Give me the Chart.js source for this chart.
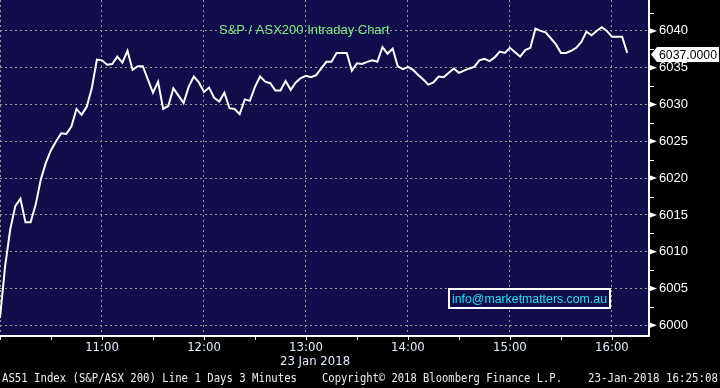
<!DOCTYPE html>
<html>
<head>
<meta charset="utf-8">
<script src="https://cdn.jsdelivr.net/npm/chart.js@4.4.1/dist/chart.umd.min.js"></script>
<style>
  html, body { margin: 0; padding: 0; background: #000; }
  #wrap { width: 720px; height: 388px; }
</style>
</head>
<body>
<div id="wrap"><canvas id="myChart" width="720" height="388"></canvas></div>
<script>
// AS51 3-minute closes from 10:00 (index 0) to 16:09
const startMinute = 0; // minutes after 10:00
const stepMinutes = 3;
const prices = [
  6001.0, 6008.0, 6013.0, 6016.2, 6017.2, 6014.0, 6014.0, 6016.4, 6019.8, 6022.1,
  6023.8, 6025.0, 6026.1, 6026.0, 6027.0, 6029.4, 6028.6, 6029.7, 6032.2, 6036.1,
  6036.0, 6035.4, 6035.5, 6036.5, 6035.7, 6037.3, 6034.7, 6035.2, 6035.2, 6033.4,
  6031.6, 6033.1, 6029.4, 6029.8, 6032.2, 6031.2, 6030.2, 6032.4, 6033.8, 6033.0,
  6031.7, 6032.3, 6030.9, 6030.4, 6031.6, 6029.5, 6029.4, 6028.7, 6030.7, 6030.5,
  6032.4, 6033.8, 6033.1, 6032.9, 6031.9, 6031.9, 6033.2, 6032.0, 6033.0, 6033.6,
  6033.9, 6033.7, 6034.0, 6034.9, 6035.8, 6035.8, 6037.0, 6037.0, 6037.0, 6034.6,
  6035.6, 6035.5, 6035.8, 6036.0, 6035.8, 6037.8, 6036.9, 6037.6, 6035.2, 6034.8,
  6035.1, 6034.7, 6034.0, 6033.4, 6032.7, 6033.0, 6033.8, 6033.7, 6034.3, 6034.9,
  6034.3, 6034.6, 6034.9, 6035.1, 6036.0, 6036.2, 6035.9, 6036.4, 6037.2, 6037.0,
  6037.7, 6037.1, 6036.5, 6037.4, 6037.7, 6040.3, 6040.0, 6039.8, 6039.0, 6038.2,
  6037.0, 6037.0, 6037.3, 6037.7, 6038.5, 6039.9, 6039.4, 6040.0, 6040.5, 6040.0,
  6039.2, 6039.2, 6039.2, 6037.0
];
const lastPrice = 6037.0;

const xTicks = [0, 60, 120, 180, 240, 300, 360];
const xLabels = ['', '11:00', '12:00', '13:00', '14:00', '15:00', '16:00'];
const xMinorTicks = [30, 90, 150, 210, 270, 330];
const yTicks = [6000, 6005, 6010, 6015, 6020, 6025, 6030, 6035, 6040];
const yMinorTicks = [6002.5, 6007.5, 6012.5, 6017.5, 6022.5, 6027.5, 6032.5, 6037.5, 6042.5];

const title = 'S&P / ASX200 Intraday Chart';
const dateLabel = '23 Jan 2018';
const footer = ['AS51 Index (S&P/ASX 200) Line 1 Days 3 Minutes', 'Copyright\u00A9 2018 Bloomberg Finance L.P.', '23-Jan-2018 16:25:08'];
const contact = 'info@marketmatters.com.au';

const PLOT_BG = '#110d4a';
const GRID = '#9c988c';

const points = prices.map((v, i) => ({ x: startMinute + i * stepMinutes, y: v }));

const decorations = {
  id: 'decorations',
  beforeDraw(chart) {
    const { ctx, chartArea: a } = chart;
    ctx.save();
    ctx.fillStyle = '#000';
    ctx.fillRect(0, 0, chart.width, chart.height);
    ctx.fillStyle = PLOT_BG;
    ctx.fillRect(a.left, a.top, a.right - a.left, a.bottom - a.top);
    ctx.restore();
  },
  afterDraw(chart) {
    const { ctx, chartArea: a } = chart;
    const xs = chart.scales.x, ys = chart.scales.y;
    ctx.save();

    // y axis tick pointers and minor ticks
    ctx.fillStyle = '#fff';
    ctx.strokeStyle = '#fff';
    ctx.lineWidth = 1;
    yTicks.forEach(v => {
      const y = ys.getPixelForValue(v);
      ctx.beginPath();
      ctx.moveTo(a.right, y - 3);
      ctx.lineTo(a.right + 8, y);
      ctx.lineTo(a.right, y + 3);
      ctx.closePath();
      ctx.fill();
    });
    yMinorTicks.forEach(v => {
      const y = Math.round(ys.getPixelForValue(v)) + 0.5;
      ctx.beginPath();
      ctx.moveTo(a.right, y);
      ctx.lineTo(a.right + 5, y);
      ctx.stroke();
    });

    // x axis tick marks
    xTicks.concat(xMinorTicks).forEach(v => {
      const x = Math.round(xs.getPixelForValue(v)) + 0.5;
      ctx.beginPath();
      ctx.moveTo(x, a.bottom);
      ctx.lineTo(x, a.bottom + 4);
      ctx.stroke();
    });

    // title
    ctx.font = '13px "Liberation Sans", Arial, sans-serif';
    ctx.fillStyle = '#82ea84';
    ctx.textAlign = 'left';
    ctx.textBaseline = 'alphabetic';
    ctx.fillText(title, 219, 34);

    // contact box
    ctx.fillStyle = PLOT_BG;
    ctx.fillRect(449, 289, 161, 19);
    ctx.lineWidth = 2;
    ctx.strokeStyle = '#fff';
    ctx.strokeRect(449, 289, 161, 19);
    ctx.fillStyle = '#1ee2ee';
    ctx.textAlign = 'center';
    ctx.textBaseline = 'middle';
    ctx.fillText(contact, 529.5, 299, 155);

    // last price flag
    const py = ys.getPixelForValue(lastPrice) + 1.5;
    ctx.fillStyle = '#fff';
    ctx.beginPath();
    ctx.moveTo(a.right + 2, py);
    ctx.lineTo(a.right + 8, py - 7.5);
    ctx.lineTo(719, py - 7.5);
    ctx.lineTo(719, py + 7.5);
    ctx.lineTo(a.right + 8, py + 7.5);
    ctx.closePath();
    ctx.fill();
    ctx.fillStyle = '#000';
    ctx.textAlign = 'left';
    ctx.font = '13px "Liberation Sans", Arial, sans-serif';
    ctx.fillText(lastPrice.toFixed(4), a.right + 10, py + 0.5, 58);

    // date under the time axis
    ctx.fillStyle = '#e4ecff';
    ctx.font = '13px "DejaVu Sans Condensed", "DejaVu Sans", sans-serif';
    ctx.textAlign = 'left';
    ctx.fillText(dateLabel, 280, 362, 73);

    // footer
    ctx.fillStyle = '#eeeeee';
    ctx.font = '12.5px "DejaVu Sans Mono", monospace';
    ctx.fillText(footer[0], 2, 379, 295);
    ctx.fillText(footer[1], 322, 379, 240);
    ctx.fillText(footer[2], 588, 379, 130);
    ctx.restore();
  }
};

new Chart(document.getElementById('myChart').getContext('2d'), {
  type: 'line',
  data: {
    datasets: [{
      label: 'AS51',
      data: points,
      borderColor: '#ffffff',
      borderWidth: 2,
      pointRadius: 0,
      tension: 0,
      fill: false
    }]
  },
  options: {
    responsive: false,
    animation: false,
    events: [],
    layout: { padding: 0 },
    plugins: { legend: { display: false }, tooltip: { enabled: false } },
    scales: {
      x: {
        type: 'linear',
        min: 0,
        max: 381.8,
        afterBuildTicks: s => { s.ticks = xTicks.map(v => ({ value: v })); },
        afterFit: s => { s.height = 52; s.paddingLeft = 0; s.paddingRight = 0; },
        grid: { color: GRID, lineWidth: 1, drawTicks: false },
        border: { display: true, color: '#ffffff', width: 2, dash: [2, 3] },
        ticks: {
          autoSkip: false,
          maxRotation: 0,
          padding: 4,
          color: '#e4ecff',
          font: { family: '"DejaVu Sans Condensed", "DejaVu Sans", sans-serif', size: 13 },
          callback: (v, i) => xLabels[i]
        }
      },
      y: {
        position: 'right',
        min: 5998.55,
        max: 6044.2,
        afterBuildTicks: s => { s.ticks = yTicks.map(v => ({ value: v })); },
        afterFit: s => { s.width = 71; s.paddingTop = 0; s.paddingBottom = 0; },
        grid: { color: GRID, lineWidth: 1, drawTicks: false },
        border: { display: true, color: '#ffffff', width: 2, dash: [2, 3] },
        ticks: {
          padding: 10,
          color: '#ffffff',
          font: { family: '"Liberation Sans", Arial, sans-serif', size: 13 },
          callback: v => String(v)
        }
      }
    }
  },
  plugins: [decorations]
});
</script>
</body>
</html>
